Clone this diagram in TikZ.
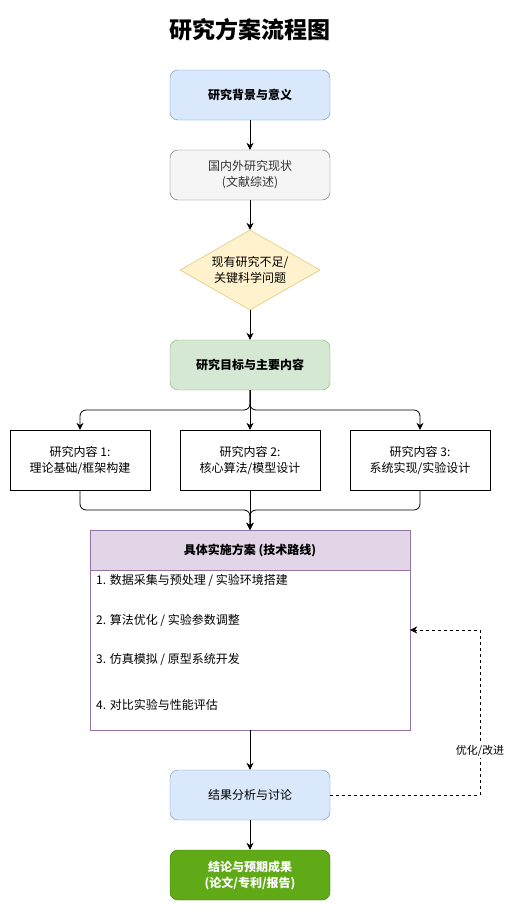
\documentclass[tikz,border=0pt]{standalone}
\usepackage{fontspec}
\setmainfont{Noto Sans CJK SC}
\usepackage{xcolor}
\usetikzlibrary{arrows.meta, positioning, shapes.geometric, calc}

\definecolor{blueFill}{HTML}{DAE8FC}
\definecolor{blueLine}{HTML}{6C8EBF}
\definecolor{grayFill}{HTML}{F5F5F5}
\definecolor{grayLine}{HTML}{666666}
\definecolor{grayText}{HTML}{333333}
\definecolor{yellowFill}{HTML}{FFF2CC}
\definecolor{yellowLine}{HTML}{D6B656}
\definecolor{greenFill}{HTML}{D5E8D4}
\definecolor{greenLine}{HTML}{82B366}
\definecolor{purpleFill}{HTML}{E1D5E7}
\definecolor{purpleLine}{HTML}{9673A6}
\definecolor{darkGreenFill}{HTML}{60A917}
\definecolor{darkGreenLine}{HTML}{2D7600}

\begin{document}
\begin{tikzpicture}[x=1pt, y=-1pt,
  every node/.style={font=\fontsize{12}{16}\selectfont, align=center, inner sep=0pt},
  roundbox/.style={draw, rounded corners=8pt, minimum width=160pt, minimum height=50pt},
  plainbox/.style={draw, fill=white, minimum width=140pt, minimum height=60pt},
  arr/.style={-{Stealth[length=7pt, width=7pt]}, thick},
  fbline/.style={-{Stealth[length=7pt, width=7pt]}, dashed, thin}]
  \useasboundingbox (0,0) rectangle (514,921);

  % --- Title ---
  \node[font=\fontsize{23}{28}\selectfont\bfseries] (title) at (250,30) {研究方案流程图};

  % --- Main column (top) ---
  \node[roundbox, fill=blueFill, draw=blueLine, font=\fontsize{12}{16}\selectfont\bfseries] (background) at (250,95) {研究背景与意义};
  \node[roundbox, fill=grayFill, draw=grayLine, text=grayText] (review) at (250,175) {国内外研究现状\\(文献综述)};
  \node[diamond, aspect=1.75, minimum width=140pt, minimum height=80pt, fill=yellowFill, draw=yellowLine] (gap) at (250,270) {};
  \node at (gap) {现有研究不足/\\关键科学问题};
  \node[roundbox, fill=greenFill, draw=greenLine, font=\fontsize{12}{16}\selectfont\bfseries] (goal) at (250,365) {研究目标与主要内容};

  \draw[arr] (background) -- (review);
  \draw[arr] (review) -- (gap);
  \draw[arr] (gap) -- (goal);

  % --- Three research contents ---
  \node[plainbox] (content1) at (80,460) {研究内容 1:\\理论基础/框架构建};
  \node[plainbox] (content2) at (250,460) {研究内容 2:\\核心算法/模型设计};
  \node[plainbox] (content3) at (420,460) {研究内容 3:\\系统实现/实验设计};

  % split above, merge below
  \coordinate (split) at (250,410);
  \coordinate (merge) at (250,510);
  \draw[arr, rounded corners=6pt] (goal.south) -- (split) -| (content1.north);
  \draw[arr, rounded corners=6pt] (goal.south) -- (split) -| (content3.north);
  \draw[arr] (goal.south) -- (content2.north);

  % --- Technical route ---
  \node[draw=purpleLine, fill=white, minimum width=320pt, minimum height=200pt] (plan) at (250,630) {};
  \node[draw=purpleLine, fill=purpleFill, minimum width=320pt, minimum height=40pt, font=\fontsize{12}{16}\selectfont\bfseries, anchor=north] (planhead) at (plan.north) {具体实施方案 (技术路线)};
  \node[anchor=west] (step1) at (96,580) {1. 数据采集与预处理 / 实验环境搭建};
  \node[anchor=west] (step2) at (96,620) {2. 算法优化 / 实验参数调整};
  \node[anchor=west] (step3) at (96,660) {3. 仿真模拟 / 原型系统开发};
  \node[anchor=west] (step4) at (96,705) {4. 对比实验与性能评估};

  \draw[arr, rounded corners=6pt] (content1.south) |- (merge) -- (planhead.north);
  \draw[arr, rounded corners=6pt] (content3.south) |- (merge) -- (planhead.north);
  \draw[arr] (content2.south) -- (planhead.north);

  % --- Results and conclusion ---
  \node[roundbox, fill=blueFill, draw=blueLine] (result) at (250,795) {结果分析与讨论};
  \node[roundbox, fill=darkGreenFill, draw=darkGreenLine, text=white, font=\fontsize{12}{16}\selectfont\bfseries] (conclusion) at (250,875) {结论与预期成果\\(论文/专利/报告)};

  \draw[arr] (plan.south) -- (result.north);
  \draw[arr] (result) -- (conclusion);

  % feedback loop
  \coordinate (loop) at (480,630);
  \draw[fbline] (result.east) -| (loop) -- (loop -| plan.east);
  \node[fill=white, inner sep=1pt, font=\fontsize{11}{14}\selectfont] (fblabel) at (480,751) {优化/改进};

\end{tikzpicture}
\end{document}
